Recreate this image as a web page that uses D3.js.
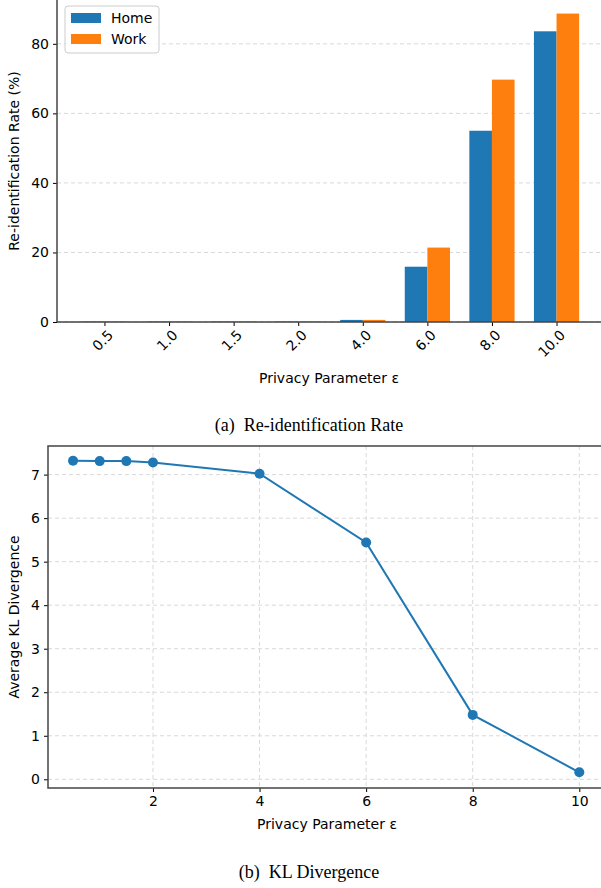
<!DOCTYPE html>
<html>
<head>
<meta charset="utf-8">
<script src="https://cdn.jsdelivr.net/npm/d3@7"></script>
<style>
  html, body { margin: 0; padding: 0; background: #fff; }
  svg { display: block; }
  text { font-family: "DejaVu Sans", sans-serif; fill: #000; }
  .caption { font-family: "Liberation Serif", "DejaVu Serif", serif; font-size: 18px; }
</style>
</head>
<body>
<svg id="chart" width="601" height="888"></svg>
<script>
// Re-identification rate per privacy parameter
const epsCategories = ["0.5", "1.0", "1.5", "2.0", "4.0", "6.0", "8.0", "10.0"];
const homeRate = [0.1, 0.1, 0.1, 0.1, 0.6, 15.9, 55.0, 83.6];
const workRate = [0.1, 0.1, 0.1, 0.1, 0.6, 21.4, 69.7, 88.7];
const rateTicks = [0, 20, 40, 60, 80];

// Average KL divergence per privacy parameter
const klEps = [0.5, 1, 1.5, 2, 4, 6, 8, 10];
const klValues = [7.32, 7.31, 7.31, 7.28, 7.02, 5.44, 1.48, 0.16];
const klXTicks = [2, 4, 6, 8, 10];
const klYTicks = [0, 1, 2, 3, 4, 5, 6, 7];

const seriesNames = ["Home", "Work"];
const colors = ["#1f77b4", "#ff7f0e"];
const gridColor = "#d9d9d9";
const spineColor = "#444";
const tickFont = 14;

const svg = d3.select("#chart");

// ---------- (a) grouped bar chart ----------
{
  const left = 57, right = 604, top = 0, bottom = 322;
  const x = d3.scaleLinear().domain([-0.735, epsCategories.length - 1 + 0.735]).range([left, right]);
  const y = d3.scaleLinear().domain([0, 92.6]).range([bottom, top]);
  const barW = 0.35;
  const g = svg.append("g");

  // horizontal grid
  g.selectAll(".grid").data(rateTicks).join("line")
    .attr("x1", left).attr("x2", 601)
    .attr("y1", d => y(d)).attr("y2", d => y(d))
    .attr("stroke", gridColor).attr("stroke-width", 1).attr("stroke-dasharray", "4,3");

  const series = [homeRate, workRate];
  series.forEach((vals, si) => {
    g.selectAll(".bar" + si).data(vals).join("rect")
      .attr("x", (d, i) => x(i + (si === 0 ? -barW : 0)))
      .attr("width", (d, i) => x(i + barW) - x(i))
      .attr("y", d => y(d))
      .attr("height", d => y(0) - y(d))
      .attr("fill", colors[si]);
  });

  // y axis
  const yAxis = g.append("g").attr("transform", `translate(${left},0)`)
    .call(d3.axisLeft(y).tickValues(rateTicks).tickFormat(d3.format("d")).tickSize(4).tickPadding(4));
  yAxis.select(".domain").remove();
  yAxis.selectAll("text").attr("font-size", tickFont).attr("font-family", "DejaVu Sans");
  yAxis.selectAll("line").attr("stroke", "#000");

  // x axis
  const xAxis = g.append("g").attr("transform", `translate(0,${bottom})`)
    .call(d3.axisBottom(x).tickValues(d3.range(epsCategories.length)).tickFormat(i => epsCategories[i]).tickSize(4));
  xAxis.select(".domain").remove();
  xAxis.selectAll("line").attr("stroke", "#000");
  xAxis.selectAll("text")
    .attr("font-size", tickFont).attr("font-family", "DejaVu Sans")
    .attr("text-anchor", "end")
    .attr("dy", null).attr("y", 0)
    .attr("transform", "translate(9,14) rotate(-45)");

  // spines
  g.append("line").attr("x1", left).attr("x2", left).attr("y1", top).attr("y2", bottom)
    .attr("stroke", spineColor).attr("stroke-width", 1.5);
  g.append("line").attr("x1", left).attr("x2", 601).attr("y1", bottom).attr("y2", bottom)
    .attr("stroke", spineColor).attr("stroke-width", 1.5);

  // labels
  g.append("text").attr("x", (left + 601) / 2).attr("y", 383).attr("text-anchor", "middle")
    .attr("font-size", 14).text("Privacy Parameter ε");
  g.append("text").attr("transform", `translate(19,${(top + bottom) / 2}) rotate(-90)`)
    .attr("text-anchor", "middle").attr("font-size", 14).text("Re-identification Rate (%)");

  // legend
  const lg = g.append("g").attr("transform", "translate(65,6)");
  lg.append("rect").attr("width", 94).attr("height", 47).attr("rx", 3)
    .attr("fill", "#fff").attr("fill-opacity", 0.8).attr("stroke", "#ccc");
  seriesNames.forEach((name, i) => {
    lg.append("rect").attr("x", 6).attr("y", 7 + i * 21).attr("width", 30).attr("height", 10).attr("fill", colors[i]);
    lg.append("text").attr("x", 46).attr("y", 17 + i * 21).attr("font-size", 14).text(name);
  });

  svg.append("text").attr("class", "caption").attr("x", 309).attr("y", 431)
    .attr("text-anchor", "middle").text("(a)\u2002Re-identification Rate");
}

// ---------- (b) line chart ----------
{
  const left = 48, top = 446, bottom = 788;
  const x = d3.scaleLinear().domain([0, 10]).range([46.4, 579.3]);
  const y = d3.scaleLinear().domain([0, 7]).range([779.3, 474.6]);
  const right = 601;
  const g = svg.append("g");

  // grid
  g.selectAll(".hgrid").data(klYTicks).join("line")
    .attr("x1", left).attr("x2", right)
    .attr("y1", d => y(d)).attr("y2", d => y(d))
    .attr("stroke", gridColor).attr("stroke-width", 1).attr("stroke-dasharray", "4,3");
  g.selectAll(".vgrid").data(klXTicks).join("line")
    .attr("x1", d => x(d)).attr("x2", d => x(d))
    .attr("y1", top).attr("y2", bottom)
    .attr("stroke", gridColor).attr("stroke-width", 1).attr("stroke-dasharray", "4,3");

  // line and markers
  const pts = klEps.map((e, i) => [e, klValues[i]]);
  g.append("path").datum(pts)
    .attr("d", d3.line().x(d => x(d[0])).y(d => y(d[1])))
    .attr("fill", "none").attr("stroke", colors[0]).attr("stroke-width", 2);
  g.selectAll(".pt").data(pts).join("circle")
    .attr("cx", d => x(d[0])).attr("cy", d => y(d[1])).attr("r", 5)
    .attr("fill", colors[0]);

  // axes
  const yAxis = g.append("g").attr("transform", `translate(${left},0)`)
    .call(d3.axisLeft(y).tickValues(klYTicks).tickFormat(d3.format("d")).tickSize(4).tickPadding(4));
  yAxis.select(".domain").remove();
  yAxis.selectAll("line").attr("stroke", "#000");
  yAxis.selectAll("text").attr("font-size", tickFont).attr("font-family", "DejaVu Sans");

  const xAxis = g.append("g").attr("transform", `translate(0,${bottom})`)
    .call(d3.axisBottom(x).tickValues(klXTicks).tickFormat(d3.format("d")).tickSize(4).tickPadding(4));
  xAxis.select(".domain").remove();
  xAxis.selectAll("line").attr("stroke", "#000");
  xAxis.selectAll("text").attr("font-size", tickFont).attr("font-family", "DejaVu Sans");

  // spines
  g.append("rect").attr("x", left).attr("y", top).attr("width", 620 - left).attr("height", bottom - top)
    .attr("fill", "none").attr("stroke", spineColor).attr("stroke-width", 1.5);

  g.append("text").attr("x", 327).attr("y", 829).attr("text-anchor", "middle")
    .attr("font-size", 14).text("Privacy Parameter ε");
  g.append("text").attr("transform", `translate(19,${(top + bottom) / 2}) rotate(-90)`)
    .attr("text-anchor", "middle").attr("font-size", 14).text("Average KL Divergence");

  svg.append("text").attr("class", "caption").attr("x", 309).attr("y", 878)
    .attr("text-anchor", "middle").text("(b)\u2002KL Divergence");
}
</script>
</body>
</html>
